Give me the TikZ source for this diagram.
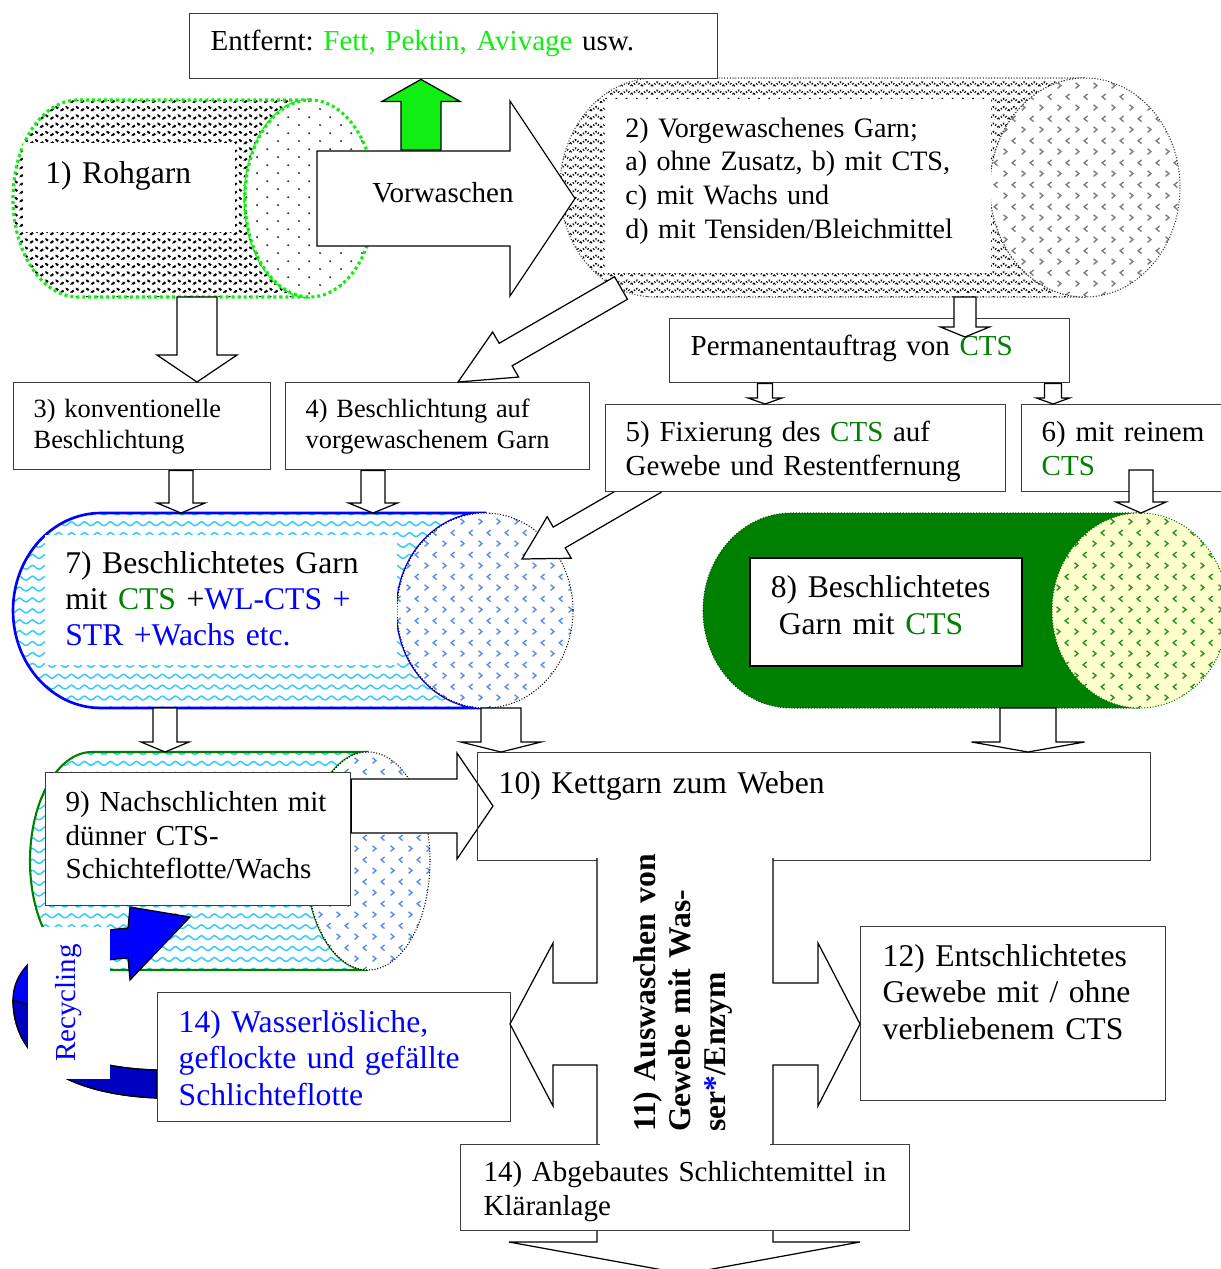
\documentclass[tikz,border=0pt]{standalone}
\usepackage{fontspec}
\setmainfont{Liberation Serif}
\frenchspacing
\usetikzlibrary{calc,patterns}
\definecolor{hellgruen}{HTML}{11EE11}
\definecolor{ctsgruen}{HTML}{008000}
\definecolor{wellblau}{HTML}{33CCFF}
\definecolor{punktblau}{HTML}{5B8CF0}
\definecolor{hellgelb}{HTML}{FFFFCC}
\definecolor{rahmengrau}{HTML}{3C3C3C}
\definecolor{rueckblau}{HTML}{0000C0}

\newcommand{\CTS}{\textcolor{ctsgruen}{CTS}}

% fill patterns for the yarn rolls
\pgfdeclarepatternformonly{zacken}{\pgfqpoint{-1pt}{-1pt}}{\pgfqpoint{6.8pt}{5.7pt}}{\pgfqpoint{5.8pt}{4.7pt}}{%
  \pgfsetlinewidth{1.15pt}\pgfsetroundjoin
  \pgfpathmoveto{\pgfqpoint{0pt}{1.3pt}}%
  \pgfpathlineto{\pgfqpoint{2.9pt}{3.4pt}}%
  \pgfpathlineto{\pgfqpoint{5.8pt}{1.3pt}}%
  \pgfusepath{stroke}}
\pgfdeclarepatternformonly{wellen}{\pgfqpoint{-1pt}{-1pt}}{\pgfqpoint{8.4pt}{7.2pt}}{\pgfqpoint{7.4pt}{6.2pt}}{%
  \pgfsetlinewidth{0.85pt}%
  \pgfpathmoveto{\pgfqpoint{0pt}{1.5pt}}%
  \pgfpathcurveto{\pgfqpoint{1.5pt}{1.5pt}}{\pgfqpoint{2.6pt}{3.7pt}}{\pgfqpoint{3.7pt}{3.7pt}}%
  \pgfpathcurveto{\pgfqpoint{4.8pt}{3.7pt}}{\pgfqpoint{5.9pt}{1.5pt}}{\pgfqpoint{7.4pt}{1.5pt}}%
  \pgfusepath{stroke}}
\pgfdeclarepatternformonly{winkel}{\pgfqpoint{0pt}{0pt}}{\pgfqpoint{10pt}{12.4pt}}{\pgfqpoint{10pt}{12.4pt}}{%
  \pgfsetlinewidth{0.8pt}%
  \pgfpathmoveto{\pgfqpoint{1.5pt}{4.7pt}}\pgfpathlineto{\pgfqpoint{3.5pt}{3.1pt}}\pgfpathlineto{\pgfqpoint{1.5pt}{1.5pt}}%
  \pgfpathmoveto{\pgfqpoint{8.5pt}{10.9pt}}\pgfpathlineto{\pgfqpoint{6.5pt}{9.3pt}}\pgfpathlineto{\pgfqpoint{8.5pt}{7.7pt}}%
  \pgfusepath{stroke}}
\pgfdeclarepatternformonly{punkte}{\pgfqpoint{0pt}{0pt}}{\pgfqpoint{12pt}{9pt}}{\pgfqpoint{12pt}{9pt}}{%
  \pgfpathcircle{\pgfqpoint{3pt}{2.25pt}}{0.7pt}%
  \pgfpathcircle{\pgfqpoint{9pt}{6.75pt}}{0.7pt}%
  \pgfusepath{fill}}

% block arrow: [style]{start}{tip}{half shaft}{half head}{head length}
\newcommand{\blockpfeil}[6][fill=white]{%
  \coordinate (pf-a) at #2;
  \coordinate (pf-b) at #3;
  \coordinate (pf-h) at ($(pf-b)!#6!(pf-a)$);
  \draw[pfeil, #1] ($(pf-a)!#4!90:(pf-b)$) -- ($(pf-h)!#4!90:(pf-b)$)
    -- ($(pf-h)!#5!90:(pf-b)$) -- (pf-b) -- ($(pf-h)!#5!-90:(pf-b)$)
    -- ($(pf-h)!#4!-90:(pf-b)$) -- ($(pf-a)!#4!-90:(pf-b)$) -- cycle;
}

% lying yarn roll: {name}{left}{top}{right}{bottom}{end radius}{body}{end face}
\newcommand{\rolle}[8]{%
  \pgfmathsetmacro{\rolleA}{#2+#6}%
  \pgfmathsetmacro{\rolleB}{#4-#6}%
  \pgfmathsetmacro{\rolleM}{(#3+#5)/2}%
  \pgfmathsetmacro{\rolleR}{(#5-#3)/2}%
  \coordinate (#1) at ({(#2+#4)/2},\rolleM);
  \coordinate (#1-n) at ({(#2+#4)/2},#3);
  \coordinate (#1-s) at ({(#2+#4)/2},#5);
  \path[#7] (\rolleB,#3) -- (\rolleA,#3)
    arc[start angle=270, end angle=90, x radius=#6, y radius=\rolleR]
    -- (\rolleB,#5)
    arc[start angle=90, end angle=270, x radius=#6, y radius=\rolleR] -- cycle;
  \path[#8] (\rolleB,\rolleM) ellipse [x radius=#6, y radius=\rolleR];
}

\begin{document}
\begin{tikzpicture}[x=0.02cm, y=-0.02cm,
    every node/.style={font=\fontsize{16.5}{19}\selectfont},
    kasten/.style={draw=rahmengrau, line width=0.8pt, fill=white, anchor=north west, inner ysep=0pt, align=left},
    etikett/.style={fill=white, anchor=north west, inner ysep=0pt, align=left},
    pfeil/.style={draw=black, line width=0.7pt},
    gross/.style={font=\fontsize{18}{20.6}\selectfont},
    klein/.style={font=\fontsize{15}{17.6}\selectfont},
    gruenpunkt/.style={draw=hellgruen, line width=1.8pt, dash pattern=on 1.7pt off 1.7pt},
    fein/.style={densely dotted, line width=0.6pt},
  ]
  \useasboundingbox (0,0) rectangle (1221,1269);

  % Raw and prewashed yarn
  \rolle{rolle1}{13}{100}{375}{297}{65}
    {preaction={fill=white}, pattern=zacken, pattern color=black, gruenpunkt}
    {preaction={fill=white}, pattern=punkte, pattern color=black!75, gruenpunkt}
  \node[etikett, gross, inner xsep=4.4mm, text width=33.6mm, text height=8mm, text depth=9.8mm] (roh) at (23,143) {1) Rohgarn};

  \rolle{rolle2}{560}{78}{1180}{297}{95}
    {preaction={fill=white}, pattern=zacken, pattern color=black, draw=black!70!olive, fein}
    {preaction={fill=white}, pattern=winkel, pattern color=black!50, draw=black!80, fein}
  \node[etikett, font=\fontsize{16}{19.1}\selectfont, inner xsep=4mm, text width=69.2mm, text height=7.6mm, text depth=27.2mm] (vorgew) at (605,99)
    {2) Vorgewaschenes Garn;\\a) ohne Zusatz, b) mit CTS,\\c) mit Wachs und\\d) mit Tensiden/Bleichmittel};

  % Sized yarn
  \rolle{rolle7}{13}{513}{573}{708}{88}
    {preaction={fill=white}, pattern=wellen, pattern color=wellblau, draw=blue, line width=1.5pt}
    {preaction={fill=white}, pattern=winkel, pattern color=punktblau, draw=black, fein}
  \node[etikett, gross, inner xsep=4mm, text width=62.4mm, text height=7.6mm, text depth=18.4mm] (b7) at (45,535)
    {7) Beschlichtetes Garn\\mit \CTS{} +\textcolor{blue}{WL-CTS +}\\\textcolor{blue}{STR +Wachs etc.}};

  \rolle{rolle8}{703}{513}{1228}{708}{88}
    {fill=ctsgruen, draw=ctsgruen!60!black, fein}
    {preaction={fill=hellgelb}, pattern=winkel, pattern color=ctsgruen!85!white, draw=ctsgruen, fein}
  \node[kasten, gross, draw=black, line width=1pt, inner xsep=4.2mm, text width=46mm, text height=8mm, text depth=13.6mm] (b8) at (749,557)
    {8) Beschlichtetes\\\hspace*{0.25em}Garn mit \CTS};

  \blockpfeil{(655,482)}{(522,559)}{2.4mm}{4.8mm}{8.6mm}

  % Process boxes
  \node[kasten, inner xsep=4.2mm, text width=97.2mm, text height=7.4mm, text depth=5.6mm] (entf) at (189,13)
    {Entfernt: \textcolor{hellgruen}{Fett, Pektin, Avivage} usw.};
  \node[kasten, inner xsep=4.2mm, text width=71.6mm, text height=7.4mm, text depth=5.4mm] (perm) at (669,318)
    {Permanentauftrag von \CTS};
  \node[kasten, inner xsep=4mm, text width=72mm, text height=7.4mm, text depth=10mm] (fix) at (605,404)
    {5) Fixierung des \CTS{} auf\\Gewebe und Restentfernung};
  \node[kasten, inner xsep=4mm, text width=35.8mm, text height=7.4mm, text depth=10mm] (rein) at (1021,404)
    {6) mit reinem\\\CTS};
  \node[kasten, klein, inner xsep=4mm, text width=43.4mm, text height=7mm, text depth=10.4mm] (konv) at (13,382)
    {3) konventionelle\\Beschlichtung};
  \node[kasten, klein, inner xsep=4mm, text width=52.8mm, text height=7mm, text depth=10.4mm] (vorb) at (285,382)
    {4) Beschlichtung auf\\vorgewaschenem Garn};

  % Prewashing
  \blockpfeil{(317,0 |- rolle1)}{(575,0 |- rolle1)}{9.5mm}{19.5mm}{13mm}
  \node (vorw) at (443,193) {Vorwaschen};
  \blockpfeil[fill=hellgruen]{(421,150)}{(421,0 |- entf.south)}{4mm}{7.8mm}{4.4mm}

  \blockpfeil{(197,0 |- rolle1-s)}{(197,0 |- konv.north)}{4mm}{8mm}{5.4mm}
  \blockpfeil{(621,288)}{(458,0 |- vorb.north)}{2.6mm}{5.2mm}{11mm}
  \blockpfeil{(965,0 |- rolle2-s)}{(965,337)}{2.2mm}{4.9mm}{2mm}
  \blockpfeil{(765,0 |- perm.south)}{(765,0 |- fix.north)}{1.5mm}{3.4mm}{1.2mm}
  \blockpfeil{(1053,0 |- perm.south)}{(1053,0 |- rein.north)}{1.7mm}{3.3mm}{1.2mm}
  \blockpfeil{(1141,470)}{(1141,0 |- rolle8-n)}{2.4mm}{5mm}{2.2mm}
  \blockpfeil{(181,0 |- konv.south)}{(181,0 |- rolle7-n)}{2.4mm}{4.8mm}{2mm}
  \blockpfeil{(373,0 |- vorb.south)}{(373,0 |- rolle7-n)}{2.4mm}{4.9mm}{2mm}

  % Post-sizing and recycling
  \rolle{rolle9}{30}{752}{430}{970}{62}
    {preaction={fill=white}, pattern=wellen, pattern color=wellblau, draw=ctsgruen, line width=1.2pt}
    {preaction={fill=white}, pattern=winkel, pattern color=punktblau, draw=black, fein}
  \filldraw[fill=blue, draw=black, line width=0.7pt]
    (157,1098) .. controls (60,1094) and (13,1055) .. (13,1000)
    .. controls (13,962) and (55,934) .. (128,928)
    -- (130,907) -- (190,917) -- (130,980) -- (128,958)
    .. controls (70,962) and (29,980) .. (29,1005)
    .. controls (29,1042) and (80,1068) .. (157,1070) -- cycle;
  \filldraw[fill=rueckblau, draw=black, line width=0.7pt]
    (13,1000) .. controls (13,1055) and (60,1094) .. (157,1098) -- (157,1070)
    .. controls (80,1068) and (29,1042) .. (29,1005) -- cycle;
  \node[fill=white, rotate=90, text=blue, minimum width=30.4mm, minimum height=16.4mm, inner sep=0pt] (recyc) at (69,1003) {Recycling};
  \node[kasten, inner xsep=4mm, text width=53mm, text height=7.8mm, text depth=18.8mm] (nach) at (45,772)
    {9) Nachschlichten mit\\dünner CTS-\\Schichteflotte/Wachs};
  \node[kasten, gross, text=blue, inner xsep=4.2mm, text width=62.2mm, text height=8mm, text depth=17.8mm] (flotte) at (157,992)
    {14) Wasserlösliche,\\geflockte und gefällte\\Schlichteflotte};

  % Weaving and desizing
  \blockpfeil{(nach.east |- 0,806)}{(493,806)}{5.4mm}{10.6mm}{7.2mm}
  \node[kasten, gross, fill=none, inner xsep=4.2mm, text width=126.2mm, text height=8.2mm, text depth=13.4mm] (kett) at (477,752)
    {10) Kettgarn zum Weben};
  \blockpfeil{(165,0 |- rolle7-s)}{(165,0 |- rolle9-n)}{2.4mm}{4.8mm}{2mm}
  \blockpfeil{(501,0 |- rolle7-s)}{(501,0 |- kett.north)}{4mm}{8mm}{2mm}
  \blockpfeil{(1028,0 |- rolle8-s)}{(1028,0 |- kett.north)}{5.6mm}{11.3mm}{2mm}

  \draw[pfeil, fill=white] (597,858) -- (597,983) -- (553,983) -- (553,943) -- (510,1024)
    -- (553,1106) -- (553,1065) -- (597,1065) -- (597,1242) -- (509,1242) -- (685,1274)
    -- (860,1242) -- (773,1242) -- (773,1065) -- (818,1065) -- (818,1106) -- (860,1024)
    -- (818,943) -- (818,983) -- (773,983) -- (773,858);

  \node[kasten, gross, inner xsep=4.4mm, text width=52.2mm, text height=8mm, text depth=26.8mm] (entschl) at (860,926)
    {12) Entschlichtetes\\Gewebe mit / ohne\\verbliebenem CTS};
  \node[kasten, inner xsep=4.6mm, text width=80.6mm, text height=7.4mm, text depth=9.8mm] (klaer) at (460,1144)
    {14) Abgebautes Schlichtemittel in\\Kläranlage};
  \node[fill=white, rotate=90, align=left, inner ysep=0pt, inner xsep=3mm, text width=56mm, text height=11mm, text depth=23mm,
        font=\fontsize{18}{20}\selectfont\bfseries] (ausw) at (685,992)
    {11) Auswaschen von\\Gewebe mit Was-\\ser\textcolor{blue}{*}/Enzym};
\end{tikzpicture}
\end{document}
